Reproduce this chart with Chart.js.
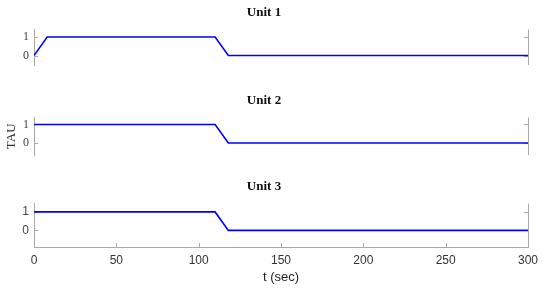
<!DOCTYPE html>
<html lang="en">
<head>
<meta charset="UTF-8">
<title>TAU per unit</title>
<script src="https://cdn.jsdelivr.net/npm/chart.js"></script>
<style>
  body { margin: 0; background: #fff; }
  .box { position: absolute; left: 0; width: 550px; }
</style>
</head>
<body>
<div class="box" style="top:0px;height:70px"><canvas id="c1" width="550" height="70"></canvas></div>
<div class="box" style="top:88px;height:72px"><canvas id="c2" width="550" height="72"></canvas></div>
<div class="box" style="top:174px;height:120px"><canvas id="c3" width="550" height="120"></canvas></div>
<script>
// data
const unitNames = ['Unit 1', 'Unit 2', 'Unit 3'];
const unit1Time = [0, 8, 110, 118, 300];
const unit1Tau  = [0, 1, 1, 0, 0];
const unit2Time = [0, 110, 118, 300];
const unit2Tau  = [1, 1, 0, 0];
const unit3Time = [0, 110, 118, 300];
const unit3Tau  = [1, 1, 0, 0];
const yTicks = [0, 1];
const xTicks = [0, 50, 100, 150, 200, 250, 300];

const AXIS = '#a9a9a9';
const SERIF = '"Liberation Serif", "DejaVu Serif", serif';
const SANS = '"Liberation Sans", Arial, sans-serif';

// right frame line + short inward tick marks (matlab style)
const frame = {
    id: 'frame',
    beforeDatasetsDraw(chart) {
        const ctx = chart.ctx, a = chart.chartArea, sx = chart.scales.x, sy = chart.scales.y;
        ctx.save();
        ctx.strokeStyle = AXIS;
        ctx.lineWidth = 1;
        ctx.beginPath();
        ctx.moveTo(Math.round(a.right) + 0.5, a.top);
        ctx.lineTo(Math.round(a.right) + 0.5, a.bottom);
        sy.ticks.forEach(t => {
            const py = Math.round(sy.getPixelForValue(t.value)) + 0.5;
            ctx.moveTo(a.left, py); ctx.lineTo(a.left + 4, py);
            ctx.moveTo(a.right, py); ctx.lineTo(a.right - 4, py);
        });
        if (sx.options.display) {
            sx.ticks.forEach(t => {
                const px = Math.round(sx.getPixelForValue(t.value)) + 0.5;
                ctx.moveTo(px, a.bottom); ctx.lineTo(px, a.bottom - 4);
            });
        }
        ctx.stroke();
        ctx.restore();
    }
};

function makeChart(id, name, times, taus, o) {
    const pts = times.map((t, i) => ({ x: t, y: taus[i] }));
    return new Chart(document.getElementById(id), {
        type: 'line',
        data: {
            datasets: [{
                data: pts,
                borderColor: '#0000ff',
                borderWidth: 1.6,
                pointRadius: 0,
                tension: 0
            }]
        },
        options: {
            responsive: false,
            animation: false,
            events: [],
            layout: { padding: { left: 0, right: 22, top: 0, bottom: o.bottom } },
            plugins: {
                legend: { display: false },
                tooltip: { enabled: false },
                title: {
                    display: true,
                    text: name,
                    color: '#111',
                    font: { family: SERIF, size: 13, weight: 'bold' },
                    padding: { top: 5, bottom: 9 }
                }
            },
            scales: {
                x: {
                    type: 'linear',
                    min: 0, max: 300,
                    display: o.showX,
                    afterBuildTicks: s => { s.ticks = xTicks.map(v => ({ value: v })); },
                    grid: { drawOnChartArea: false, drawTicks: false },
                    border: { color: AXIS },
                    ticks: { color: '#333', padding: 6, maxRotation: 0, font: { family: SANS, size: 12 } },
                    title: {
                        display: true, text: 't (sec)', color: '#222',
                        padding: { top: -4, bottom: 0 }, font: { family: SANS, size: 13 }
                    }
                },
                y: {
                    min: o.min, max: o.max,
                    afterBuildTicks: s => { s.ticks = yTicks.map(v => ({ value: v })); },
                    afterFit: s => { s.width = 34; s.paddingTop = 0; s.paddingBottom = 0; },
                    grid: { drawOnChartArea: false, drawTicks: false },
                    border: { color: AXIS },
                    ticks: { color: '#444', padding: 5, font: { family: o.tickFont, size: 12 } },
                    title: {
                        display: o.yTitle, text: 'TAU', color: '#333',
                        padding: { top: 4, bottom: 0 }, font: { family: SERIF, size: 13 }
                    }
                }
            }
        },
        plugins: [frame]
    });
}

makeChart('c1', unitNames[0], unit1Time, unit1Tau, { min: -0.51, max: 1.4, bottom: 5, showX: false, yTitle: false, tickFont: SERIF });
makeChart('c2', unitNames[1], unit2Time, unit2Tau, { min: -0.65, max: 1.37, bottom: 5, showX: false, yTitle: true, tickFont: SERIF });
makeChart('c3', unitNames[2], unit3Time, unit3Tau, { min: -0.9, max: 1.45, bottom: 9, showX: true, yTitle: false, tickFont: SANS });
</script>
</body>
</html>
